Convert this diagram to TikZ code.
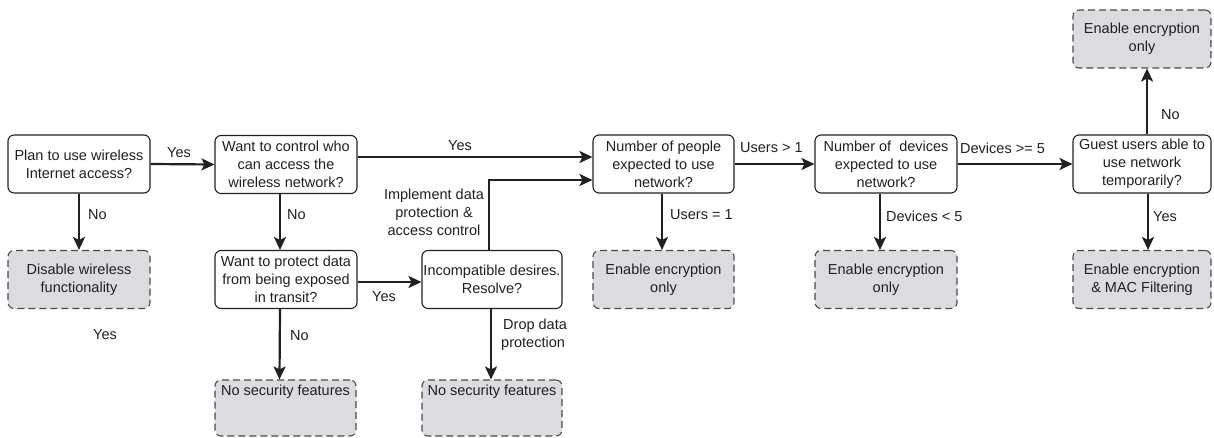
\documentclass[tikz,border=0pt]{standalone}
\usepackage{fontspec}
\setmainfont{Liberation Sans}
\usetikzlibrary{arrows.meta}
\definecolor{txt}{HTML}{231F20}
\definecolor{endfill}{HTML}{DCDCE0}
\definecolor{endline}{HTML}{4A4A4A}
\begin{document}
\begin{tikzpicture}[x=1pt,y=-1pt,
  font=\fontsize{14.5}{18}\selectfont, text=txt,
  qbox/.style={draw=txt, line width=1.1pt, rounded corners=6pt, minimum width=142pt, minimum height=58pt, align=center, inner sep=0pt},
  ebox/.style={draw=endline, fill=endfill, dash pattern=on 7pt off 4pt, line width=1.1pt, rounded corners=6pt, minimum width=142pt, minimum height=58pt, align=center, inner sep=0pt},
  arr/.style={draw=txt, line width=2.2pt, -{Stealth[length=13pt,width=12pt,inset=3pt]}},
  lab/.style={inner sep=0pt, align=center}]
\path[use as bounding box] (0,0) rectangle (1214,438);

% question boxes
\node[qbox] (q1) at (79,164) {Plan to use wireless\\Internet access?};
\node[qbox] (q2) at (286,164.5) {Want to control who\\can access the\\wireless network?};
\node[qbox] (q3) at (286,279.5) {Want to protect data\\from being exposed\\in transit?};
\node[qbox, minimum width=140pt] (inc) at (492,279.5) {Incompatible desires.\\Resolve?};
\node[qbox, minimum width=141pt] (q4) at (663.5,164) {Number of people\\expected to use\\network?};
\node[qbox] (q5) at (886,164) {Number of \ devices\\expected to use\\network?};
\node[qbox, minimum width=138pt] (q6) at (1142,164) {Guest users able to\\use network\\temporarily?};

% end boxes
\node[ebox] (e1) at (79,279.5) {Disable wireless\\functionality};
\node[ebox, minimum width=141pt, minimum height=56pt] (ns1) at (285.5,408) {No security features\\[18pt]};
\node[ebox, minimum width=140pt, minimum height=56pt] (ns2) at (492,408) {No security features\\[18pt]};
\node[ebox, minimum width=141pt] (e2) at (663.5,279.5) {Enable encryption\\only};
\node[ebox] (e3) at (886,279.5) {Enable encryption\\only};
\node[ebox, minimum width=138pt] (e4) at (1142,279.5) {Enable encryption\\\& MAC Filtering};
\node[ebox, minimum width=138pt] (e5) at (1142,39) {Enable encryption\\only};

% connectors
\draw[arr] (q1.east) -- (q2.west);
\draw[arr] (q1.south) -- (e1.north);
\draw[arr] ([xshift=-6pt]q2.south) -- ([xshift=-6pt]q3.north);
\draw[arr] ([xshift=-6pt]q3.south) -- ([xshift=-6pt]ns1.north);
\draw[arr] ([yshift=7.5pt]q2.east) -- ([yshift=7.5pt]q2.east -| q4.west);
\draw[arr] ([yshift=-2.5pt]q3.east) -- ([yshift=-2.5pt]q3.east -| inc.west);
\draw[arr] ([xshift=-3pt]inc.north) |- ([yshift=-16pt]q4.west);
\draw[arr] ([xshift=-1pt]inc.south) -- ([xshift=-1pt]ns2.north);
\draw[arr] ([xshift=-1.5pt]q4.south) -- ([xshift=-1.5pt]e2.north);
\draw[arr] (q4.east) -- (q5.west);
\draw[arr] ([xshift=-6pt]q5.south) -- ([xshift=-6pt]e3.north);
\draw[arr] (q5.east) -- (q6.west);
\draw[arr] ([xshift=6pt]q6.south) -- ([xshift=6pt]e4.north);
\draw[arr] ([xshift=5pt]q6.north) -- ([xshift=5pt]e5.south);

% labels
\node[lab] (l1) at (179,153) {Yes};
\node[lab, anchor=west] (l2) at (88,215) {No};
\node[lab, anchor=west] (l3) at (287,215) {No};
\node[lab, anchor=west] (l4) at (290,336) {No};
\node[lab] (l5) at (384,297) {Yes};
\node[lab] (l6) at (460,146) {Yes};
\node[lab] (l7) at (434,212) {Implement data\\protection \&\\access control};
\node[lab, align=left, anchor=west] (l8) at (501,335) {\hspace*{2pt}Drop data\\protection};
\node[lab, anchor=west] (l9) at (670,215) {Users = 1};
\node[lab, anchor=west] (l10) at (740,148) {Users > 1};
\node[lab, anchor=west] (l11) at (886,216) {Devices < 5};
\node[lab, anchor=west] (l12) at (960,148) {Devices >= 5};
\node[lab, anchor=west] (l13) at (1153,217) {Yes};
\node[lab, anchor=west] (l14) at (1161,115) {No};
\node[lab] (l15) at (105,335) {Yes};
\end{tikzpicture}
\end{document}
